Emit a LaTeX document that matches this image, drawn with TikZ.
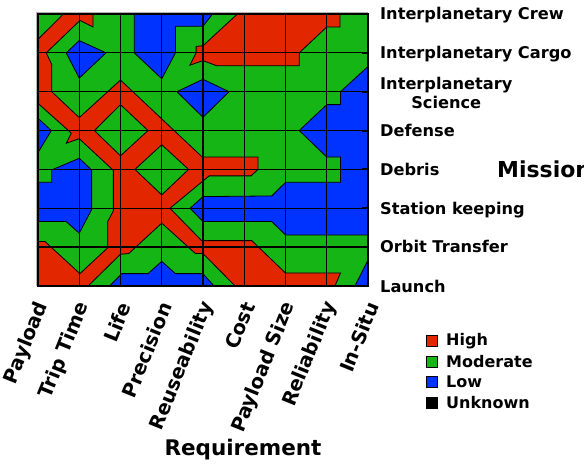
\documentclass[tikz,border=0pt]{standalone}
\usepackage{fontspec}
\setmainfont{DejaVu Sans}
\definecolor{cred}{RGB}{226,38,0}
\definecolor{cgreen}{RGB}{20,181,20}
\definecolor{cblue}{RGB}{0,51,255}
\begin{document}
\begin{tikzpicture}[x=1pt,y=-1pt,
  cl/.style={line width=0.8pt, draw=black, line join=miter},
  redf/.style={cl, fill=cred},
  greenf/.style={cl, fill=cgreen},
  bluef/.style={cl, fill=cblue},
  gridl/.style={line width=1.2pt, draw=black},
  lab/.style={font=\fontsize{16.2}{19}\selectfont\bfseries, inner sep=0pt},
  blab/.style={font=\fontsize{19.5}{21}\selectfont\bfseries, rotate=68, anchor=east, inner sep=0pt},
  legbox/.style={draw=black, line width=0.8pt, minimum size=11pt, inner sep=0pt},
  legtxt/.style={font=\fontsize{16}{19}\selectfont\bfseries, inner sep=0pt, anchor=west}]
\useasboundingbox (0,0) rectangle (584,465);
\fill[white] (0,0) rectangle (584,465);
\begin{scope}[xshift=38pt, yshift=-14pt, x=13.75pt, y=-12.95pt]
  \fill[cgreen] (0,0) rectangle (24,21);
  \begin{scope}
  \clip (0,0) rectangle (24,21);
  % central red network
  \filldraw[redf] (1.85,0) -- (4,0) -- (4,1) -- (3.05,0.5) -- (0.6,3.0) -- (1,3.9) -- (1,6) -- (3,8) -- (6,5.1)
    -- (11.95,11.05) -- (16,11.05) -- (16,12) -- (15.5,12.5) -- (12.45,12.5) -- (9.6,15) -- (11.9,17.5)
    -- (15.55,17.5) -- (18,20) -- (22,20) -- (21.6,21) -- (14.33,21) -- (12,18.5) -- (11.45,18.5)
    -- (9,16.15) -- (6.6,18.5) -- (6,18.55) -- (3.65,21) -- (0,21) -- (0,17.57) -- (0.51,17.57)
    -- (3.05,20.05) -- (5.07,18.05) -- (5.07,16.03) -- (5.48,15.2) -- (5.48,12.08) -- (3,9.63)
    -- (2.06,9.98) -- (2.42,9.2) -- (0,6.9) -- (0,1.95) -- cycle;
  % top right red
  \filldraw[redf] (14.5,0) -- (21.97,0) -- (21.97,1) -- (21,1) -- (19,3) -- (19,4) -- (13,4) -- (12,3.6)
    -- (11.05,3.95) -- (11.5,3.0) -- (11.5,2.5) -- (12,2.45) -- cycle;
  % green diamonds
  \filldraw[greenf] (6,7.0) -- (8,9) -- (6,10.95) -- (4.1,9) -- cycle;
  \filldraw[greenf] (9,10.1) -- (10.95,12) -- (9,13.97) -- (7.05,12) -- cycle;
  % blue regions
  \filldraw[bluef] (7,0) -- (12.7,0) -- (12,0.95) -- (10,0.95) -- (10,3) -- (9,5) -- (7,3) -- cycle;
  \filldraw[bluef] (2.05,3) -- (3,2.05) -- (4.95,3) -- (3,4.95) -- cycle;
  \filldraw[bluef] (10.1,6) -- (12,5.04) -- (13.9,6) -- (12,7.98) -- cycle;
  \filldraw[bluef] (0,8.05) -- (0.97,9) -- (0,10.7) -- cycle;
  \filldraw[bluef] (0,13) -- (1,13) -- (1,12.04) -- (3,11.14) -- (3.9,12.04) -- (3.9,15.1) -- (3,16.93)
    -- (2.05,16.03) -- (0,16.03) -- cycle;
  \filldraw[bluef] (24,4.05) -- (22,6) -- (22,7) -- (21,7) -- (19,9) -- (21,11.05) -- (22,11.05) -- (22,13)
    -- (18,13) -- (17,14.05) -- (12,14.1) -- (11.06,15) -- (12,16.03) -- (17,16.03) -- (18,17.06)
    -- (24,17.06) -- cycle;
  \filldraw[bluef] (5.2,21) -- (6.1,20.05) -- (8,20.05) -- (9,19.1) -- (10,20.05) -- (12,20.05) -- (12.8,21) -- cycle;
  \filldraw[bluef] (24,19) -- (24,21) -- (23.05,21) -- cycle;
  \end{scope}
  % grid
  \foreach \i in {3,6,...,21} { \draw[gridl] (\i,0) -- (\i,21); }
  \foreach \j in {3,6,...,18} { \draw[gridl] (0,\j) -- (24,\j); }
  \foreach \j in {0,3,...,21} { \draw[line width=2pt] (23.55,\j) -- (24,\j); }
  \draw[gray!60, line width=1.5pt] (-0.09,21) -- (-0.09,-0.1) -- (24,-0.1);
  \draw[line width=1.2pt] (0,0) rectangle (24,21);
\end{scope}
% row labels
\node[lab, anchor=base west] (r1) at (380,20) {Interplanetary Crew};
\node[lab, anchor=base west] (r2) at (380,59) {Interplanetary Cargo};
\node[lab, anchor=west, align=center] (r3) at (380,93) {Interplanetary\\Science};
\node[lab, anchor=base west] (r4) at (380,137) {Defense};
\node[lab, anchor=base west] (r5) at (380,176) {Debris};
\node[lab, anchor=base west] (r6) at (380,215) {Station keeping};
\node[lab, anchor=base west] (r7) at (380,253) {Orbit Transfer};
\node[lab, anchor=base west] (r8) at (380,292) {Launch};
\node[font=\fontsize{22}{24}\selectfont\bfseries, inner sep=0pt, anchor=base west] (mis) at (497,178) {Mission};
% column labels
\node[blab] (c1) at (43,303) {Payload};
\node[blab] (c2) at (84,303) {Trip Time};
\node[blab] (c3) at (125,303) {Life};
\node[blab] (c4) at (166,303) {Precision};
\node[blab] (c5) at (208,303) {Reuseability};
\node[blab] (c6) at (249,303) {Cost};
\node[blab] (c7) at (290,303) {Payload Size};
\node[blab] (c8) at (331,303) {Reliability};
\node[blab] (c9) at (373,303) {In-Situ};
\node[font=\fontsize{21.5}{24}\selectfont\bfseries, inner sep=0pt] (req) at (243,450) {Requirement};
% legend
\node[legbox, fill=cred] (l1) at (432,341) {};
\node[legbox, fill=cgreen] (l2) at (432,362) {};
\node[legbox, fill=cblue] (l3) at (432,382) {};
\node[legbox, fill=black] (l4) at (432,403) {};
\node[legtxt] (t1) at (446,341) {High};
\node[legtxt] (t2) at (446,362) {Moderate};
\node[legtxt] (t3) at (446,382) {Low};
\node[legtxt] (t4) at (446,403) {Unknown};
\end{tikzpicture}
\end{document}
